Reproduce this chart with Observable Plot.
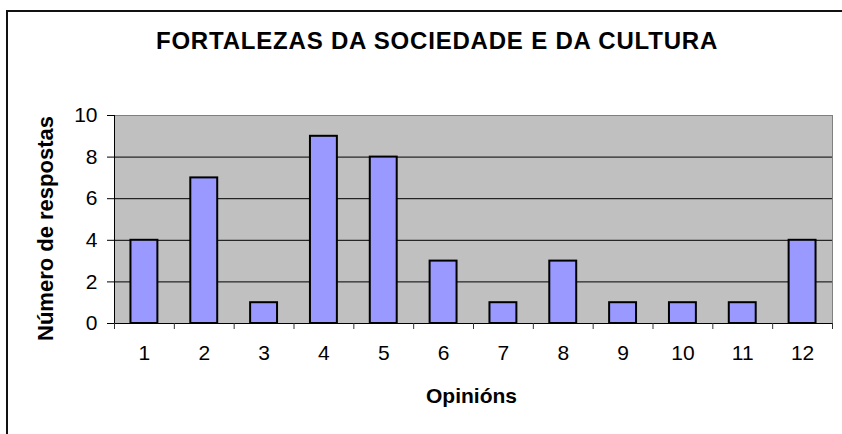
<!DOCTYPE html>
<html>
<head>
<meta charset="utf-8">
<script src="https://cdn.jsdelivr.net/npm/d3@7"></script>
<script src="https://cdn.jsdelivr.net/npm/@observablehq/plot@0.6"></script>
<style>
  html, body { margin: 0; padding: 0; background: #ffffff; overflow: hidden; }
  #wrap { position: relative; width: 842px; height: 434px; }
  #border { position: absolute; left: 6px; top: 10px; width: 900px; height: 500px;
            border-left: 2px solid #111; border-top: 2px solid #111; pointer-events: none; }
</style>
</head>
<body>
<div id="wrap"><div id="chart"></div><div id="border"></div></div>
<script>
const title = "FORTALEZAS DA SOCIEDADE E DA CULTURA";
const yLabel = "N\u00famero de respostas";
const xLabel = "Opini\u00f3ns";
const categories = [1, 2, 3, 4, 5, 6, 7, 8, 9, 10, 11, 12];
const values = [4, 7, 1, 9, 8, 3, 1, 3, 1, 1, 1, 4];
const yTicks = [0, 2, 4, 6, 8, 10];

const data = categories.map((c, i) => ({c, v: values[i]}));
const boundaries = [...categories.map(c => c - 0.5), categories[categories.length - 1] + 0.5];
const half = 0.225;

const chart = Plot.plot({
  width: 842,
  height: 434,
  marginTop: 115,
  marginBottom: 111,
  marginLeft: 114,
  marginRight: 10,
  x: {type: "linear", domain: [boundaries[0], boundaries[boundaries.length - 1]], axis: null},
  y: {domain: [0, 10], axis: null},
  style: {fontFamily: "'Liberation Sans', Arial, sans-serif", background: "white", color: "black"},
  marks: [
    Plot.frame({fill: "#C0C0C0", stroke: "#808080"}),
    Plot.ruleY(yTicks.filter(t => t > 0 && t < 10), {stroke: "black"}),
    Plot.rectY(data, {x1: d => d.c - half, x2: d => d.c + half, y: "v", fill: "#9999FF", stroke: "black", strokeWidth: 2}),
    Plot.ruleY([0], {stroke: "black"}),
    Plot.ruleX([boundaries[0]], {stroke: "black"}),
    Plot.axisY({ticks: yTicks, tickSize: 7, tickPadding: 10, fontSize: 21, label: null}),
    Plot.axisX({ticks: boundaries, tickSize: 6, tickFormat: () => "", label: null, stroke: "#333"}),
    Plot.axisX({ticks: categories, tickSize: 0, tickPadding: 22, fontSize: 21, label: null}),
    Plot.text([title], {frameAnchor: "top", textAnchor: "middle", lineAnchor: "middle", dx: -36.5, dy: -74, fontSize: 24, fontWeight: "bold"}),
    Plot.text([yLabel], {frameAnchor: "left", textAnchor: "middle", lineAnchor: "middle", rotate: -90, dx: -69, dy: 9, fontSize: 22, fontWeight: "bold"}),
    Plot.text([xLabel], {frameAnchor: "bottom", textAnchor: "middle", lineAnchor: "middle", dx: -2, dy: 73, fontSize: 21, fontWeight: "bold"})
  ]
});
document.getElementById("chart").appendChild(chart);
d3.select(chart).selectAll("text").filter(function () { return this.textContent === title; })
  .style("letter-spacing", "0.8px");
</script>
</body>
</html>
